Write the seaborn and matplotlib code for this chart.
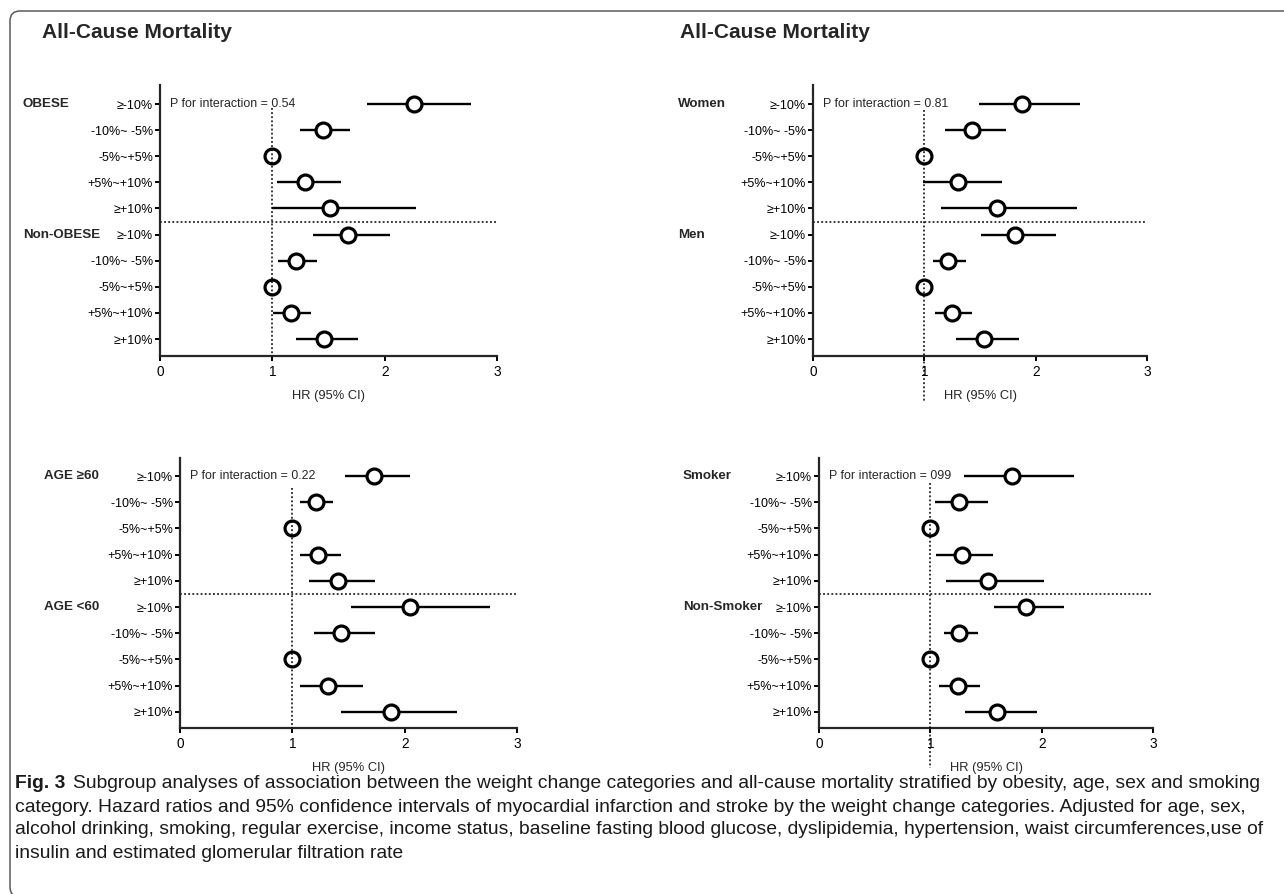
import numpy as np
import pandas as pd
import matplotlib
matplotlib.use("Agg")
import matplotlib.pyplot as plt
from matplotlib import font_manager
from matplotlib.patches import FancyBboxPatch
from matplotlib.transforms import IdentityTransform, blended_transform_factory
import seaborn as sns

# ---------------------------------------------------------------- data
categories = ["≥-10%", "-10%~ -5%", "-5%~+5%", "+5%~+10%", "≥+10%"]

# Obesity
obese_hr = [2.26, 1.45, 1.00, 1.29, 1.51]
obese_lo = [1.84, 1.25, 1.00, 1.04, 1.00]
obese_hi = [2.77, 1.69, 1.00, 1.61, 2.28]
nonobese_hr = [1.67, 1.21, 1.00, 1.17, 1.46]
nonobese_lo = [1.36, 1.05, 1.00, 1.01, 1.21]
nonobese_hi = [2.05, 1.40, 1.00, 1.34, 1.76]

# Sex
women_hr = [1.88, 1.43, 1.00, 1.30, 1.65]
women_lo = [1.49, 1.19, 1.00, 0.99, 1.15]
women_hi = [2.40, 1.73, 1.00, 1.70, 2.37]
men_hr = [1.81, 1.21, 1.00, 1.25, 1.54]
men_lo = [1.51, 1.08, 1.00, 1.10, 1.28]
men_hi = [2.18, 1.37, 1.00, 1.43, 1.85]

# Age
age60p_hr = [1.73, 1.21, 1.00, 1.23, 1.41]
age60p_lo = [1.47, 1.07, 1.00, 1.07, 1.15]
age60p_hi = [2.05, 1.36, 1.00, 1.43, 1.74]
age60m_hr = [2.05, 1.43, 1.00, 1.32, 1.88]
age60m_lo = [1.52, 1.19, 1.00, 1.07, 1.43]
age60m_hi = [2.76, 1.74, 1.00, 1.63, 2.47]

# Smoking
smoker_hr = [1.73, 1.26, 1.00, 1.28, 1.52]
smoker_lo = [1.30, 1.04, 1.00, 1.05, 1.14]
smoker_hi = [2.29, 1.52, 1.00, 1.56, 2.02]
nonsmoker_hr = [1.86, 1.26, 1.00, 1.25, 1.60]
nonsmoker_lo = [1.57, 1.12, 1.00, 1.08, 1.31]
nonsmoker_hi = [2.20, 1.43, 1.00, 1.45, 1.96]

x_ticks = [0, 1, 2, 3]
x_label = "HR (95% CI)"
panel_title = "All-Cause Mortality"

caption_bold = "Fig. 3"
caption_lines = [
    "Subgroup analyses of association between the weight change categories and all-cause mortality stratified by obesity, age, sex and smoking",
    "category. Hazard ratios and 95% confidence intervals of myocardial infarction and stroke by the weight change categories. Adjusted for age, sex,",
    "alcohol drinking, smoking, regular exercise, income status, baseline fasting blood glucose, dyslipidemia, hypertension, waist circumferences,use of",
    "insulin and estimated glomerular filtration rate",
]

# ---------------------------------------------------------------- style
sns.set_theme(style="ticks")
names = {f.name for f in font_manager.fontManager.ttflist}
narrow = "Liberation Sans Narrow" in names
chart_font = "Liberation Sans Narrow" if narrow else "Liberation Sans"
fs_scale = 1.18 if narrow else 1.0
plt.rcParams["font.family"] = [chart_font, "DejaVu Sans"]
plt.rcParams["axes.unicode_minus"] = False

W, H = 1284, 894
fig = plt.figure(figsize=(W / 100, H / 100), dpi=100)
fig.patch.set_facecolor("white")

FS_TICK = 9.0 * fs_scale
FS_XTICK = 9.8 * fs_scale
FS_GROUP = 9.6 * fs_scale
FS_P = 8.9 * fs_scale


def px(x, y):
    return x / W, 1 - y / H


def add_axes(left, top, right, bottom):
    return fig.add_axes([left / W, 1 - bottom / H, (right - left) / W, (bottom - top) / H])


def draw_panel(ax, groups, top, bottom, p_text, ylim, vline, group_x):
    (t_hr, t_lo, t_hi), (b_hr, b_lo, b_hi) = top, bottom
    df = pd.DataFrame({
        "pos": np.arange(10),
        "hr": t_hr + b_hr,
        "lo": t_lo + b_lo,
        "hi": t_hi + b_hi,
    })
    ax.hlines(df["pos"], df["lo"], df["hi"], color="black", lw=1.7, zorder=2)
    sns.scatterplot(data=df, x="hr", y="pos", ax=ax, marker="o", s=115,
                    facecolor="white", edgecolor="black", linewidth=2.3,
                    zorder=3, legend=False)
    # reference line at HR = 1
    ax.plot([1, 1], vline, color="black", lw=1.1, ls=(0, (1.2, 1.5)),
            zorder=4, clip_on=False)
    # divider between the two subgroups
    ax.axhline(4.5, color="black", lw=1.1, ls=(0, (1.2, 1.5)), zorder=1)

    ax.set_xlim(0, 3)
    ax.set_ylim(*ylim)
    ax.set_xticks(x_ticks)
    ax.set_xticklabels([str(t) for t in x_ticks])
    ax.set_yticks(df["pos"])
    ax.set_yticklabels(categories * 2)
    ax.set_xlabel(x_label, fontsize=FS_TICK * 1.03, labelpad=8)
    ax.set_ylabel("")
    for s in ("top", "right"):
        ax.spines[s].set_visible(False)
    for s in ("left", "bottom"):
        ax.spines[s].set_linewidth(1.6)
    ax.tick_params(axis="both", direction="out", length=3.5, width=1.4,
                   labelsize=FS_TICK, colors="black", pad=1.5)
    ax.tick_params(axis="x", pad=3, labelsize=FS_XTICK)
    ax.text(0.09, 0, p_text, fontsize=FS_P, va="center", ha="left")

    tr = blended_transform_factory(fig.transFigure, ax.transData)
    ax.text(group_x / W, 0, groups[0], transform=tr, fontsize=FS_GROUP,
            fontweight="bold", va="center", ha="left")
    ax.text(group_x / W, 5, groups[1], transform=tr, fontsize=FS_GROUP,
            fontweight="bold", va="center", ha="left")


ax1 = add_axes(160, 85, 497, 356)
ax2 = add_axes(813, 85, 1147, 356)
ax3 = add_axes(180, 458, 517, 728)
ax4 = add_axes(819, 458, 1153, 728)

draw_panel(ax1, ["OBESE", "Non-OBESE"],
           (obese_hr, obese_lo, obese_hi), (nonobese_hr, nonobese_lo, nonobese_hi),
           "P for interaction = 0.54", (9.65, -0.73), [0.16, 9.65], 23)
draw_panel(ax2, ["Women", "Men"],
           (women_hr, women_lo, women_hi), (men_hr, men_lo, men_hi),
           "P for interaction = 0.81", (9.65, -0.73), [0.24, 11.4], 678)
draw_panel(ax3, ["AGE ≥60", "AGE <60"],
           (age60p_hr, age60p_lo, age60p_hi), (age60m_hr, age60m_lo, age60m_hi),
           "P for interaction = 0.22", (9.62, -0.69), [0.45, 9.62], 44)
draw_panel(ax4, ["Smoker", "Non-Smoker"],
           (smoker_hr, smoker_lo, smoker_hi), (nonsmoker_hr, nonsmoker_lo, nonsmoker_hi),
           "P for interaction = 099", (9.62, -0.69), [0.25, 11.15], 683)

# panel headings
for xp in (42, 680):
    fig.text(*px(xp, 33), panel_title, fontsize=15.0, fontweight="bold",
             family=["Liberation Sans", "DejaVu Sans"], va="center", ha="left")

# caption, sized so the first line spans the text block
renderer = fig.canvas.get_renderer()
cap_family = [chart_font, "DejaVu Sans"]
fs = 11.0
target = 1262 - 15
for _ in range(6):
    tb = fig.text(*px(15, 784), caption_bold, fontsize=fs, fontweight="bold",
                  family=cap_family, va="center", ha="left", color="#1a1a1a")
    bb = tb.get_window_extent(renderer)
    t1 = fig.text((bb.x1 + 8) / W, 1 - 784 / H, caption_lines[0], fontsize=fs,
                  family=cap_family, va="center", ha="left", color="#1a1a1a")
    bb1 = t1.get_window_extent(renderer)
    width = bb1.x1 - bb.x0
    tb.remove()
    t1.remove()
    fs *= target / width

tb = fig.text(*px(15, 784), caption_bold, fontsize=fs, fontweight="bold",
              family=cap_family, va="center", ha="left", color="#1a1a1a")
bb = tb.get_window_extent(renderer)
fig.text((bb.x1 + 8) / W, 1 - 784 / H, caption_lines[0], fontsize=fs,
         family=cap_family, va="center", ha="left", color="#1a1a1a")
for i, line in enumerate(caption_lines[1:], start=1):
    fig.text(*px(15, 784 + 23 * i), line, fontsize=fs, family=cap_family,
             va="center", ha="left", color="#1a1a1a")

# rounded frame around the figure
frame = FancyBboxPatch((10, -3), 1300, 886, boxstyle="round,pad=0,rounding_size=10",
                       transform=IdentityTransform(), fill=False,
                       edgecolor="#5a5a5a", linewidth=1.1)
fig.add_artist(frame)

fig.savefig("out.png", dpi=100, facecolor="white")
